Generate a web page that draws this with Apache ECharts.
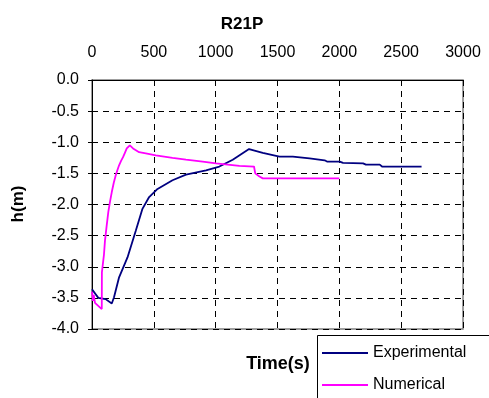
<!DOCTYPE html>
<html>
<head>
<meta charset="utf-8">
<script src="https://cdn.jsdelivr.net/npm/echarts@6/dist/echarts.min.js"></script>
<style>
  html, body { margin: 0; padding: 0; background: #fff; }
  #chart { width: 489px; height: 398px; }
</style>
</head>
<body>
<div id="chart"></div>
<script>
// Water level h (m) against time (s) for test R21P
var expTime = [0, 51, 110, 160, 178, 219, 287, 354, 408, 462, 530, 651, 760, 922, 1030, 1138, 1270, 1381, 1516, 1624, 1640, 1759, 1775, 1881, 1900, 2003, 2030, 2192, 2215, 2327, 2345, 2665];
var expH    = [-3.36, -3.50, -3.52, -3.59, -3.49, -3.17, -2.85, -2.42, -2.07, -1.88, -1.75, -1.61, -1.52, -1.45, -1.39, -1.28, -1.11, -1.17, -1.23, -1.23, -1.25, -1.26, -1.28, -1.29, -1.31, -1.31, -1.33, -1.34, -1.36, -1.36, -1.39, -1.39];

var numTime = [0, 8, 14, 24, 79, 80, 90, 97, 105, 118, 132, 146, 160, 176, 192, 205, 219, 235, 251, 266, 281, 306, 332, 381, 435, 516, 651, 760, 895, 1003, 1192, 1310, 1320, 1354, 1381, 2000];
var numH    = [-3.40, -3.55, -3.45, -3.58, -3.68, -3.09, -3.09, -2.80, -2.58, -2.35, -2.12, -1.95, -1.80, -1.65, -1.53, -1.45, -1.37, -1.30, -1.24, -1.17, -1.10, -1.05, -1.10, -1.16, -1.18, -1.21, -1.25, -1.28, -1.31, -1.34, -1.38, -1.39, -1.50, -1.55, -1.58, -1.58];

var xTicks = { min: 0, max: 3000, step: 500 };
var yTicks = { min: -4, max: 0, step: 0.5 };

function pairs(t, v) {
  return t.map(function (x, i) { return [x, v[i]]; });
}

var chart = echarts.init(document.getElementById('chart'), null, { renderer: 'canvas' });
var font = 'Liberation Sans, Arial, sans-serif';

chart.setOption({
  animation: false,
  backgroundColor: '#fff',
  title: {
    text: 'R21P',
    left: 237, top: 11, textAlign: 'center',
    textStyle: { fontFamily: font, fontSize: 17, fontWeight: 'bold', color: '#000' }
  },
  grid: {
    left: 92, top: 80, width: 371, height: 249,
    show: true, borderColor: '#808080', borderWidth: 1.5, backgroundColor: '#fff'
  },
  xAxis: {
    type: 'value', position: 'top',
    min: xTicks.min, max: xTicks.max, interval: xTicks.step,
    axisLine: { show: true, lineStyle: { color: '#000', width: 1 } },
    axisTick: { show: false },
    axisLabel: {
      color: '#000', fontFamily: font, fontSize: 16, margin: 19,
      formatter: function (v) { return String(v); }
    },
    splitLine: { show: true, lineStyle: { color: '#000', width: 1, type: [6, 5] } }
  },
  yAxis: {
    type: 'value',
    min: yTicks.min, max: yTicks.max, interval: yTicks.step,
    axisLine: { show: true, onZero: false, lineStyle: { color: '#000', width: 1 } },
    axisTick: { show: true, length: 4, lineStyle: { color: '#000' } },
    axisLabel: {
      color: '#000', fontFamily: font, fontSize: 16, margin: 13,
      formatter: function (v) { return v.toFixed(1); }
    },
    splitLine: { show: true, lineStyle: { color: '#000', width: 1, type: [6, 5] } }
  },
  legend: {
    orient: 'vertical', left: 322, top: 344, padding: 0,
    icon: 'rect', itemWidth: 46, itemHeight: 2, itemGap: 14,
    textStyle: { fontFamily: font, fontSize: 16, lineHeight: 18, color: '#000' },
    data: ['Experimental', 'Numerical']
  },
  graphic: [
    {
      type: 'rect', left: 317, top: 335, z: -1,
      shape: { width: 200, height: 80 },
      style: { fill: '#fff', stroke: '#000', lineWidth: 1 }
    },
    {
      type: 'text', x: 278, y: 364,
      style: { text: 'Time(s)', font: 'bold 18px ' + font, fill: '#000', align: 'center', verticalAlign: 'middle' }
    },
    {
      type: 'text', x: 18, y: 204, rotation: Math.PI / 2,
      style: { text: 'h(m)', font: 'bold 17px ' + font, fill: '#000', align: 'center', verticalAlign: 'middle' }
    }
  ],
  series: [
    {
      name: 'Experimental', type: 'line', symbol: 'none',
      data: pairs(expTime, expH),
      lineStyle: { color: '#000080', width: 1.8 },
      itemStyle: { color: '#000080' }
    },
    {
      name: 'Numerical', type: 'line', symbol: 'none',
      data: pairs(numTime, numH),
      lineStyle: { color: '#ff00ff', width: 1.8 },
      itemStyle: { color: '#ff00ff' }
    }
  ]
});
</script>
</body>
</html>
